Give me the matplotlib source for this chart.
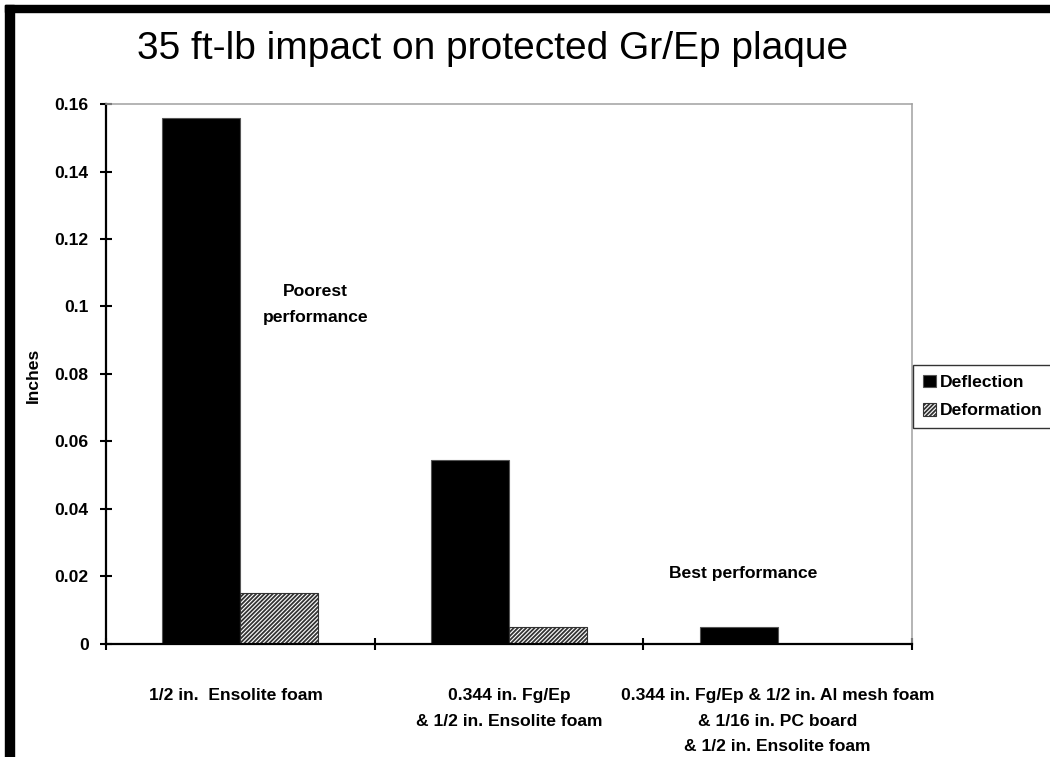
import numpy as np
import matplotlib
matplotlib.use("Agg")
import matplotlib.pyplot as plt
from matplotlib.patches import Rectangle

plt.rcParams['font.family'] = ['Liberation Sans', 'DejaVu Sans']
plt.rcParams['hatch.linewidth'] = 1.3

# impact test results (inches)
categories = ["1/2 in.  Ensolite foam  ",
              "0.344 in. Fg/Ep\n& 1/2 in. Ensolite foam",
              "0.344 in. Fg/Ep & 1/2 in. Al mesh foam\n& 1/16 in. PC board\n& 1/2 in. Ensolite foam"]
deflection = [0.156, 0.0545, 0.005]
deformation = [0.015, 0.005, 0.0]
series_names = ["Deflection", "Deformation"]
y_ticks = [0, 0.02, 0.04, 0.06, 0.08, 0.1, 0.12, 0.14, 0.16]
y_tick_labels = ["0", "0.02", "0.04", "0.06", "0.08", "0.1", "0.12", "0.14", "0.16"]

FS = 12.6

fig = plt.figure(figsize=(10.5, 7.57), dpi=100)
ax = fig.add_axes([0.101, 0.1493, 0.7676, 0.7133])

x = np.arange(len(categories)) + 0.5
w = 0.29
ax.bar(x - w / 2, deflection, w, color='black', edgecolor='#555555', linewidth=0.8,
       label=series_names[0], zorder=2)
ax.bar(x + w / 2, deformation, w, color='white', edgecolor='#333333', hatch='////////',
       linewidth=0.8, label=series_names[1], zorder=2)

ax.set_xlim(0, 3)
ax.set_ylim(0, 0.16)

# category boundaries get the tick marks, labels sit at the centres
ax.set_xticks([0, 1, 2, 3])
ax.set_xticklabels([])
ax.set_xticks(x, minor=True)
ax.set_xticklabels(categories, minor=True, fontsize=FS, fontweight='bold',
                   linespacing=1.84, va='top')
ax.tick_params(axis='x', which='minor', length=0, pad=32)
ax.tick_params(axis='x', which='major', direction='inout', length=9, width=1.5)

ax.set_yticks(y_ticks)
ax.set_yticklabels(y_tick_labels, fontsize=FS, fontweight='bold')
ax.tick_params(axis='y', direction='inout', length=9, width=1.5, pad=8)

for side in ['left', 'bottom']:
    ax.spines[side].set_linewidth(1.6)
    ax.spines[side].set_color('black')
for side in ['top', 'right']:
    ax.spines[side].set_linewidth(1.1)
    ax.spines[side].set_color('#a0a0a0')

fig.text(33 / 1050, 1 - 375 / 757, "Inches", rotation=90, ha='center', va='center',
         fontsize=FS, fontweight='bold')

ax.text(0.78, 0.1006, "Poorest\nperformance", ha='center', va='center', fontsize=FS,
        fontweight='bold', linespacing=1.84)
ax.text(2.37, 0.0210, "Best performance", ha='center', va='center', fontsize=FS,
        fontweight='bold')

fig.text(0.4695, 0.935, "35 ft-lb impact on protected Gr/Ep plaque", ha='center',
         va='center', fontsize=28)

leg = fig.legend(loc='upper left', bbox_to_anchor=(913 / 1050, 1 - 365 / 757),
                 prop={'weight': 'bold', 'size': FS},
                 frameon=True, fancybox=False, handlelength=0.75, handleheight=0.75,
                 handletextpad=0.25, borderpad=0.55, labelspacing=0.73,
                 borderaxespad=0)
leg.get_frame().set_edgecolor('black')
leg.get_frame().set_linewidth(1.0)

# heavy black frame along the left and top edges
fig.patches.append(Rectangle((5 / 1050, 0), 9 / 1050, 752 / 757, transform=fig.transFigure,
                             color='black', zorder=10))
fig.patches.append(Rectangle((5 / 1050, 745 / 757), 1045 / 1050, 7 / 757,
                             transform=fig.transFigure, color='black', zorder=10))

fig.savefig("out.png", dpi=100)
